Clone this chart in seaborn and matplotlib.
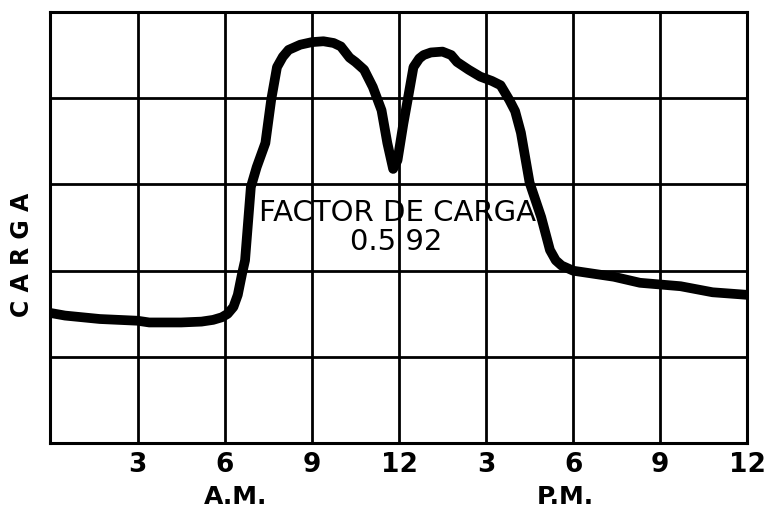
import matplotlib
matplotlib.use("Agg")
import matplotlib.pyplot as plt
import seaborn as sns
import pandas as pd

# load curve (hour of day, load in grid units 0-5)
hours = [0.0, 0.5, 1.7, 3.0, 3.4, 4.5, 5.2, 5.6, 5.9, 6.1, 6.3, 6.45, 6.6, 6.7,
         6.9, 7.1, 7.4, 7.6, 7.8, 8.0, 8.2, 8.6, 9.0, 9.4, 9.75, 10.0, 10.3,
         10.5, 10.8, 11.1, 11.4, 11.6, 11.8, 11.95, 12.15, 12.3, 12.5, 12.7,
         12.85, 13.1, 13.5, 13.8, 14.0, 14.4, 14.8, 15.2, 15.5, 15.8, 16.0,
         16.2, 16.5, 16.9, 17.2, 17.4, 17.6, 18.0, 19.4, 20.3, 21.7, 22.8, 24.0]
load = [1.51, 1.48, 1.44, 1.42, 1.40, 1.40, 1.41, 1.43, 1.46, 1.50, 1.58, 1.72,
        1.97, 2.12, 2.97, 3.20, 3.48, 3.98, 4.36, 4.48, 4.56, 4.62, 4.65, 4.66,
        4.64, 4.60, 4.47, 4.42, 4.33, 4.13, 3.86, 3.48, 3.18, 3.28, 3.70, 3.98,
        4.36, 4.46, 4.50, 4.53, 4.54, 4.50, 4.42, 4.33, 4.25, 4.20, 4.15, 3.98,
        3.85, 3.60, 3.02, 2.62, 2.24, 2.12, 2.06, 2.00, 1.93, 1.86, 1.82, 1.75,
        1.72]

tick_pos = [3, 6, 9, 12, 15, 18, 21, 24]
tick_labels = ["3", "6", "9", "12", "3", "6", "9", "12"]

df = pd.DataFrame({"hora": hours, "carga": load})

sns.set_style("white")
plt.rcParams["font.family"] = ["DejaVu Sans"]
plt.rcParams["text.color"] = "black"
plt.rcParams["xtick.color"] = "black"

fig = plt.figure(figsize=(7.65, 5.19), dpi=100)
ax = fig.add_axes([0.066, 0.146, 0.911, 0.831])

sns.lineplot(data=df, x="hora", y="carga", ax=ax, color="black", linewidth=7,
             solid_capstyle="round", solid_joinstyle="round", zorder=3)

ax.set_xlim(0, 24)
ax.set_ylim(0, 5)
ax.set_xticks(tick_pos)
ax.set_xticklabels(tick_labels, fontsize=19, fontweight="bold", color="black")
ax.set_yticks(range(6))
ax.set_yticklabels([])
ax.tick_params(length=0, pad=6)
ax.grid(True, color="black", linewidth=2)
for s in ax.spines.values():
    s.set_color("black")
    s.set_linewidth(2.2)
ax.set_xlabel("")
ax.set_ylabel("")

fig.text(22 / 765, 1 - 255 / 519, "C A R G A", fontsize=17, fontweight="bold",
         rotation=90, ha="center", va="center", color="black")

ax.text(11.95, 2.67, "FACTOR DE CARGA", fontsize=21, ha="center", va="center",
        color="black")
ax.text(11.9, 2.33, "0.5 92", fontsize=21, ha="center", va="center",
        color="black")

fig.text(236 / 765, 1 - 497 / 519, "A.M.", fontsize=18, fontweight="bold",
         ha="center", va="center")
fig.text(565 / 765, 1 - 497 / 519, "P.M.", fontsize=18, fontweight="bold",
         ha="center", va="center")

fig.savefig("out.png", dpi=100)
